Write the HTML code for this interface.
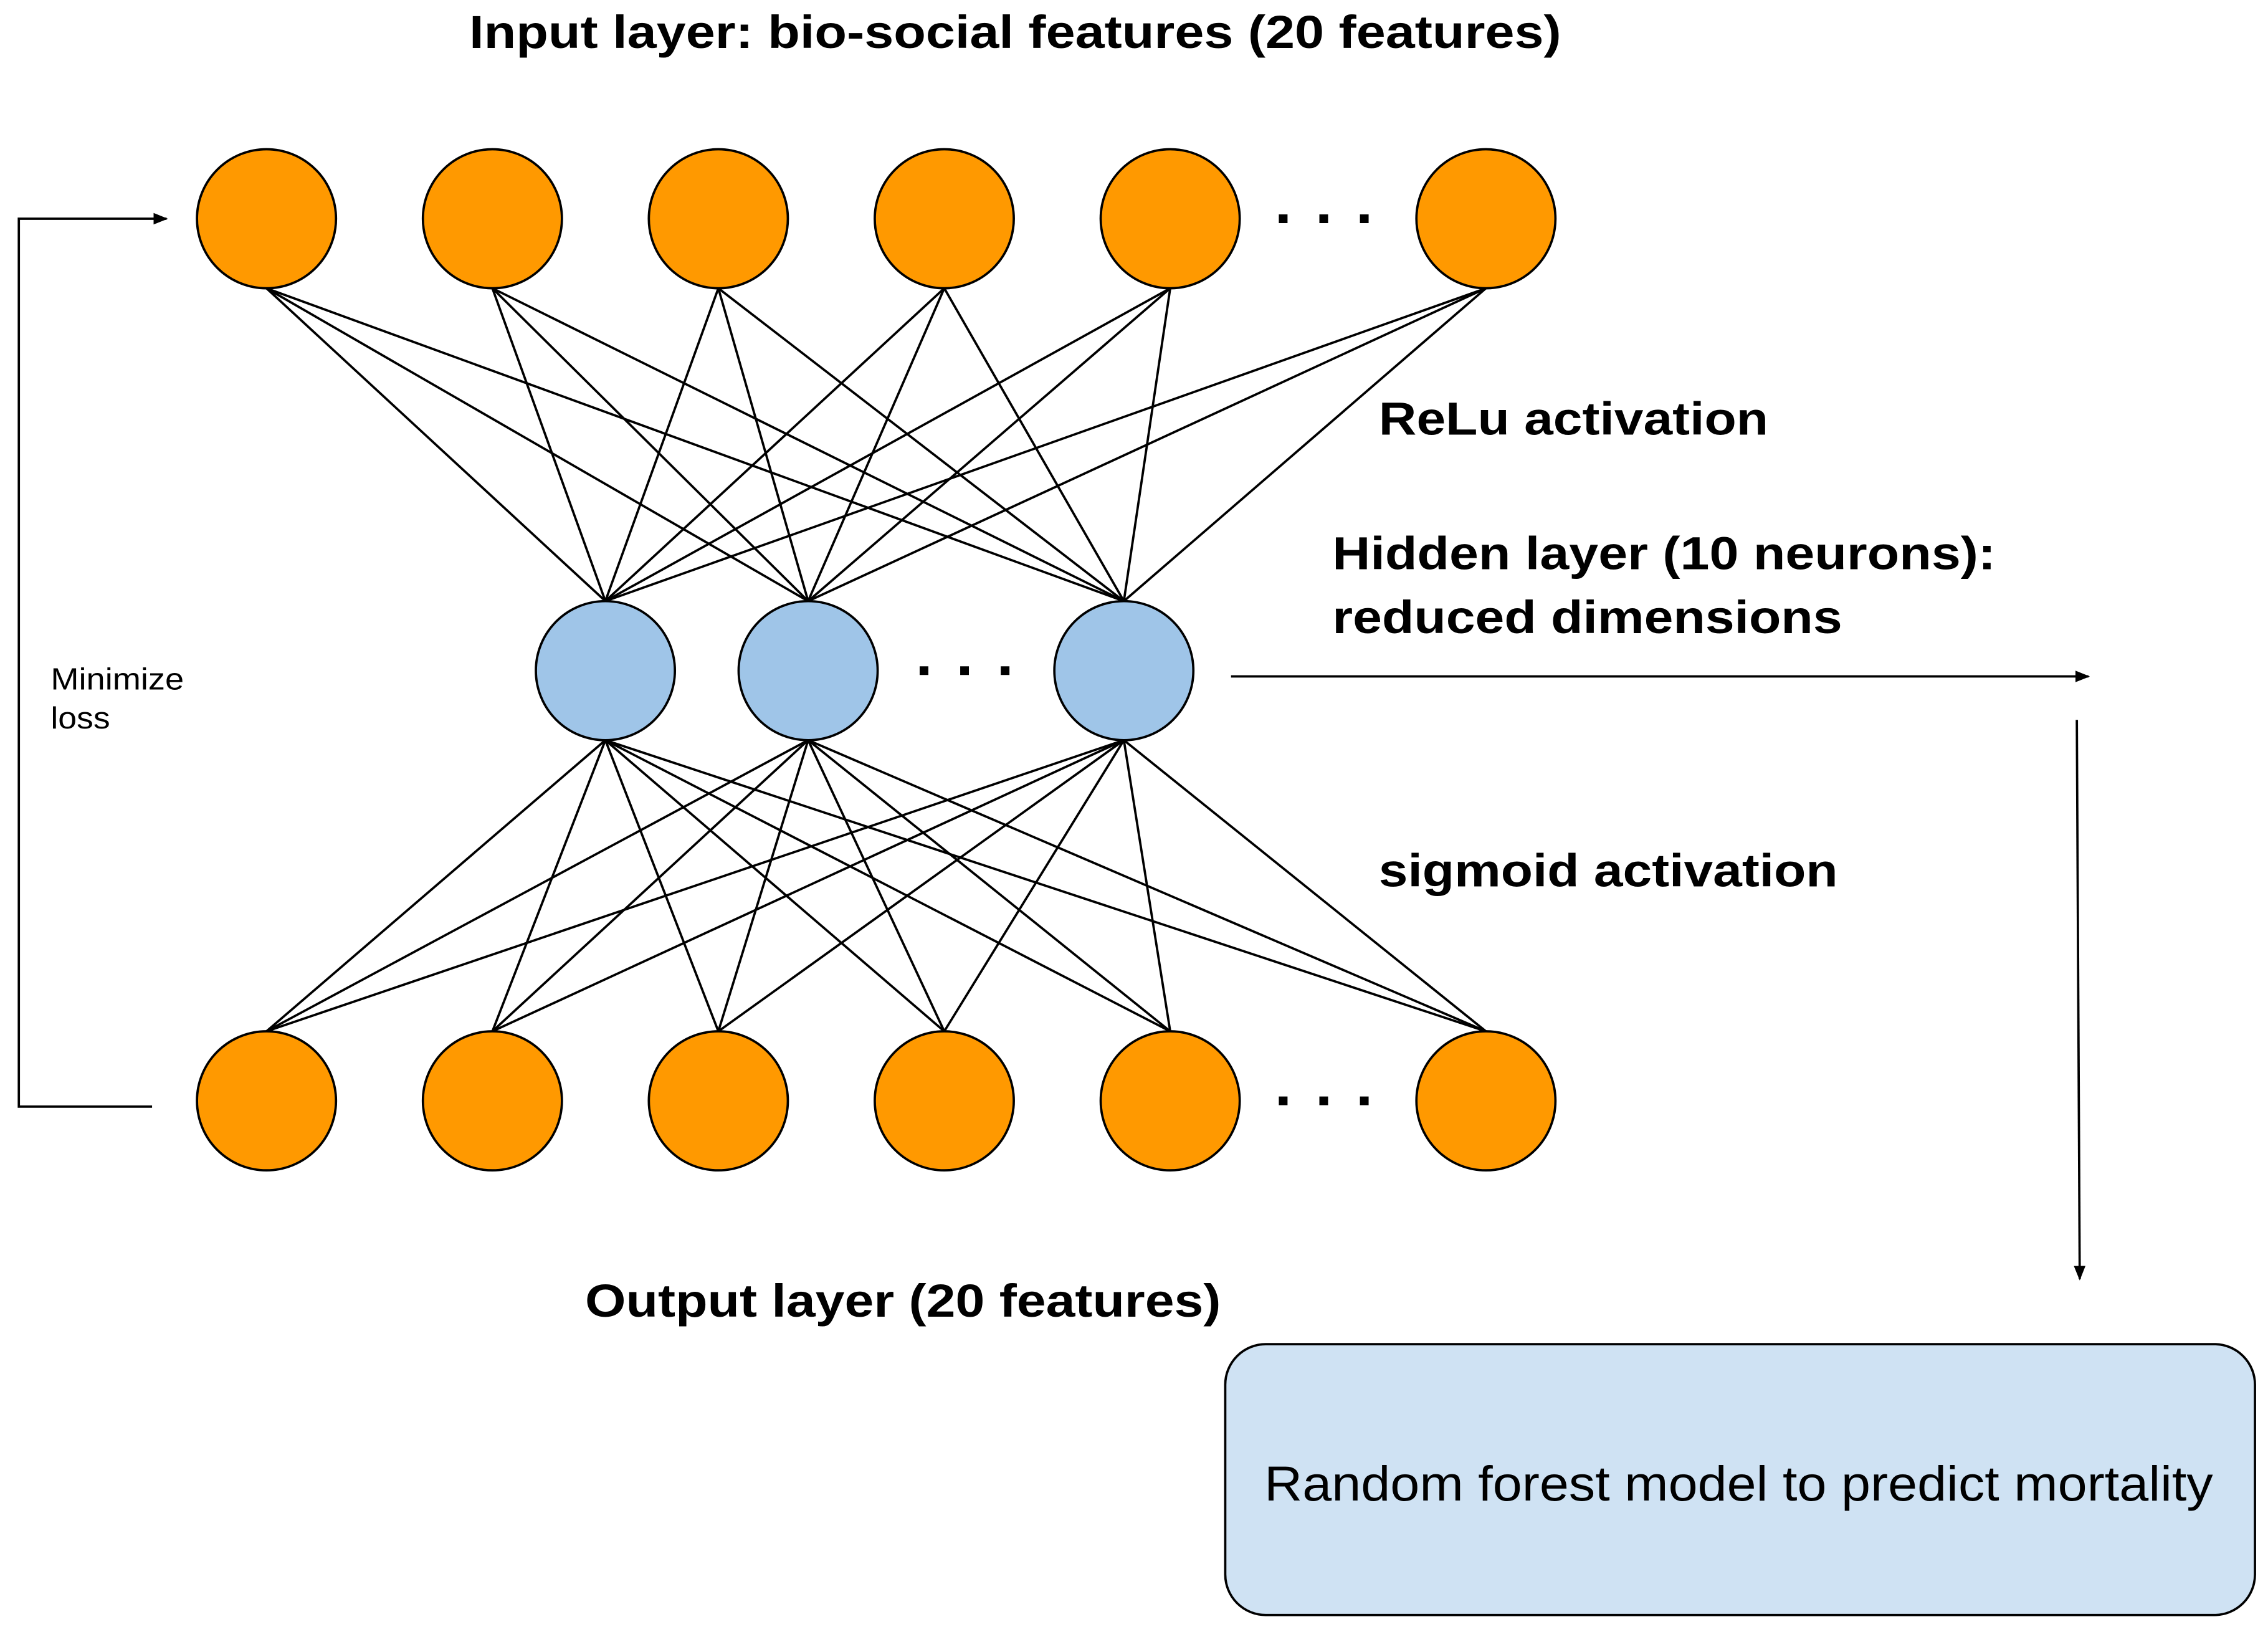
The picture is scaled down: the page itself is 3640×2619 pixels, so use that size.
<!DOCTYPE html>
<html><head><meta charset="utf-8"><style>
html,body{margin:0;padding:0;background:#fff;}
svg{display:block;}
text{font-family:"Liberation Sans",Arial,sans-serif;fill:#000;}
.b{font-weight:bold;font-size:32px;}
</style></head><body>
<svg width="3640" height="2619" viewBox="0 0 1566 1126.7" xmlns="http://www.w3.org/2000/svg">
<defs><marker id="a" markerWidth="10" markerHeight="8" refX="9" refY="4" orient="auto" markerUnits="userSpaceOnUse"><path d="M0,0 L10,4 L0,8 z" fill="#000"/></marker></defs>
<g stroke="#000" stroke-width="1.6">
<line x1="184" y1="199" x2="418" y2="415"/><line x1="184" y1="199" x2="558" y2="415"/><line x1="184" y1="199" x2="776" y2="415"/>
<line x1="340" y1="199" x2="418" y2="415"/><line x1="340" y1="199" x2="558" y2="415"/><line x1="340" y1="199" x2="776" y2="415"/>
<line x1="496" y1="199" x2="418" y2="415"/><line x1="496" y1="199" x2="558" y2="415"/><line x1="496" y1="199" x2="776" y2="415"/>
<line x1="652" y1="199" x2="418" y2="415"/><line x1="652" y1="199" x2="558" y2="415"/><line x1="652" y1="199" x2="776" y2="415"/>
<line x1="808" y1="199" x2="418" y2="415"/><line x1="808" y1="199" x2="558" y2="415"/><line x1="808" y1="199" x2="776" y2="415"/>
<line x1="1026" y1="199" x2="418" y2="415"/><line x1="1026" y1="199" x2="558" y2="415"/><line x1="1026" y1="199" x2="776" y2="415"/>
<line x1="418" y1="511" x2="184" y2="712"/><line x1="558" y1="511" x2="184" y2="712"/><line x1="776" y1="511" x2="184" y2="712"/>
<line x1="418" y1="511" x2="340" y2="712"/><line x1="558" y1="511" x2="340" y2="712"/><line x1="776" y1="511" x2="340" y2="712"/>
<line x1="418" y1="511" x2="496" y2="712"/><line x1="558" y1="511" x2="496" y2="712"/><line x1="776" y1="511" x2="496" y2="712"/>
<line x1="418" y1="511" x2="652" y2="712"/><line x1="558" y1="511" x2="652" y2="712"/><line x1="776" y1="511" x2="652" y2="712"/>
<line x1="418" y1="511" x2="808" y2="712"/><line x1="558" y1="511" x2="808" y2="712"/><line x1="776" y1="511" x2="808" y2="712"/>
<line x1="418" y1="511" x2="1026" y2="712"/><line x1="558" y1="511" x2="1026" y2="712"/><line x1="776" y1="511" x2="1026" y2="712"/>
</g>
<g stroke="#000" stroke-width="1.6" fill="#ff9900">
<circle cx="184" cy="151" r="48"/><circle cx="340" cy="151" r="48"/><circle cx="496" cy="151" r="48"/><circle cx="652" cy="151" r="48"/><circle cx="808" cy="151" r="48"/><circle cx="1026" cy="151" r="48"/>
<circle cx="184" cy="760" r="48"/><circle cx="340" cy="760" r="48"/><circle cx="496" cy="760" r="48"/><circle cx="652" cy="760" r="48"/><circle cx="808" cy="760" r="48"/><circle cx="1026" cy="760" r="48"/>
</g>
<g stroke="#000" stroke-width="1.6" fill="#9fc5e8">
<circle cx="418" cy="463" r="48"/><circle cx="558" cy="463" r="48"/><circle cx="776" cy="463" r="48"/>
</g>
<g fill="#000">
<rect x="883" y="148" width="6" height="6"/><rect x="911" y="148" width="6" height="6"/><rect x="939" y="148" width="6" height="6"/>
<rect x="883" y="757" width="6" height="6"/><rect x="911" y="757" width="6" height="6"/><rect x="939" y="757" width="6" height="6"/>
<rect x="635" y="460" width="6" height="6"/><rect x="663" y="460" width="6" height="6"/><rect x="691" y="460" width="6" height="6"/>
</g>
<g stroke="#000" stroke-width="1.6" fill="none">
<polyline points="105,764 13,764 13,151 115,151" marker-end="url(#a)"/>
<line x1="850" y1="467" x2="1442" y2="467" marker-end="url(#a)"/>
<line x1="1434" y1="497" x2="1436" y2="883" marker-end="url(#a)"/>
</g>
<rect x="846" y="928" width="711" height="187" rx="28" fill="#cfe2f3" stroke="#000" stroke-width="1.6"/>
<text x="873" y="1036" font-size="34" textLength="655" lengthAdjust="spacingAndGlyphs">Random forest model to predict mortality</text>
<text class="b" x="324" y="33" textLength="754" lengthAdjust="spacingAndGlyphs">Input layer: bio-social features (20 features)</text>
<text class="b" x="952" y="300" textLength="269" lengthAdjust="spacingAndGlyphs">ReLu activation</text>
<text class="b" x="920" y="393" textLength="458" lengthAdjust="spacingAndGlyphs">Hidden layer (10 neurons):</text>
<text class="b" x="920" y="437" textLength="352" lengthAdjust="spacingAndGlyphs">reduced dimensions</text>
<text class="b" x="952" y="612" textLength="317" lengthAdjust="spacingAndGlyphs">sigmoid activation</text>
<text class="b" x="404" y="909" textLength="439" lengthAdjust="spacingAndGlyphs">Output layer (20 features)</text>
<text x="35" y="476" font-size="21" textLength="92" lengthAdjust="spacingAndGlyphs">Minimize</text>
<text x="35" y="503" font-size="21" textLength="41" lengthAdjust="spacingAndGlyphs">loss</text>
</svg>
</body></html>
